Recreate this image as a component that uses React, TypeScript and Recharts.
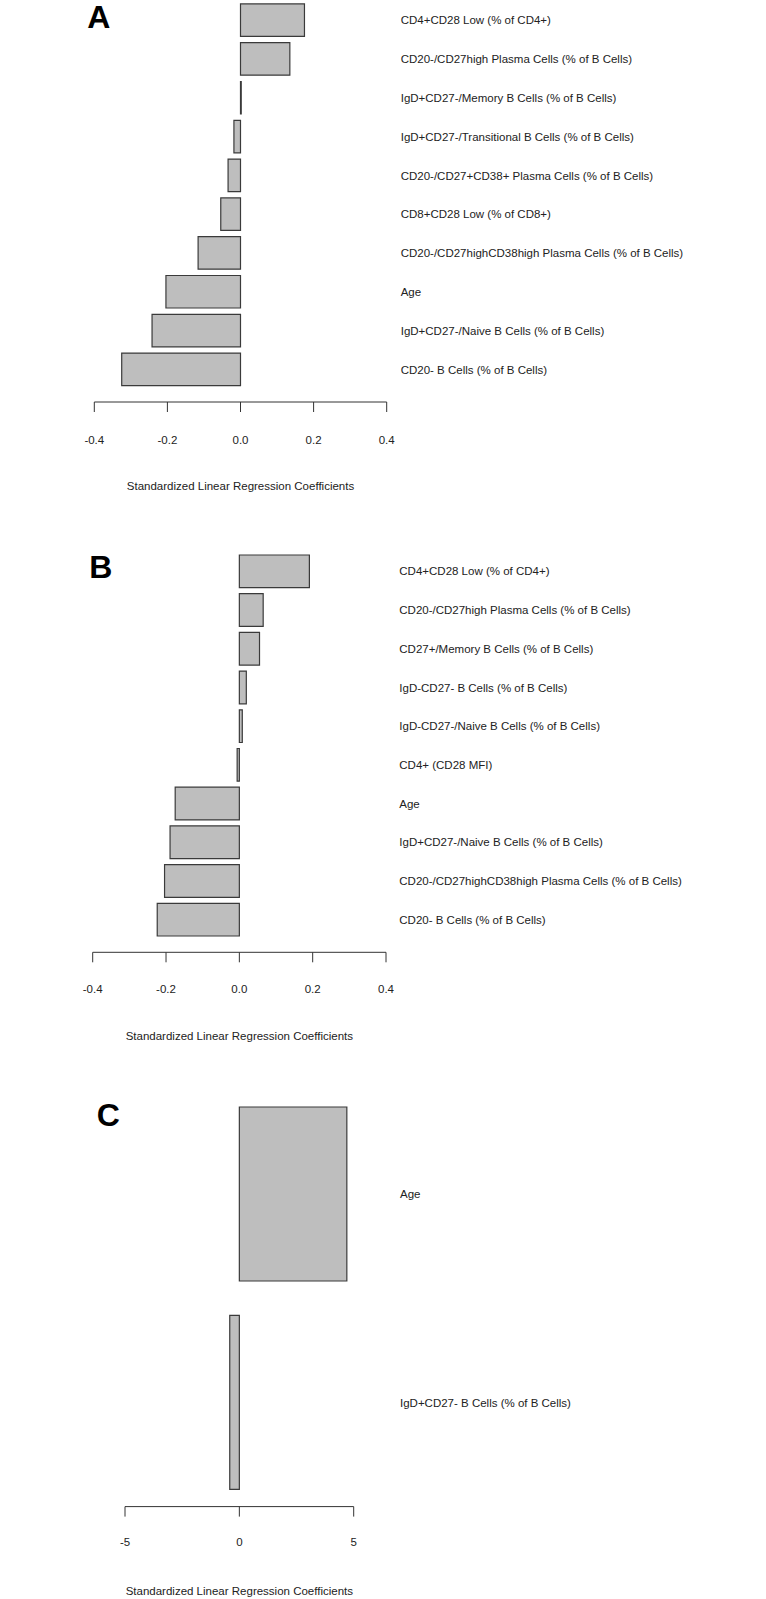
import { BarChart, Bar, XAxis, YAxis } from "recharts";

const FONT = '"Liberation Sans", Arial, Helvetica, sans-serif';
const INK = "#222";
const AXIS_TITLE = "Standardized Linear Regression Coefficients";

// panel A
const categoriesA = [
  "CD4+CD28 Low (% of CD4+)",
  "CD20-/CD27high Plasma Cells (% of B Cells)",
  "IgD+CD27-/Memory B Cells (% of B Cells)",
  "IgD+CD27-/Transitional B Cells (% of B Cells)",
  "CD20-/CD27+CD38+ Plasma Cells (% of B Cells)",
  "CD8+CD28 Low (% of CD8+)",
  "CD20-/CD27highCD38high Plasma Cells (% of B Cells)",
  "Age",
  "IgD+CD27-/Naive B Cells (% of B Cells)",
  "CD20- B Cells (% of B Cells)",
];
const coefA = [0.175, 0.135, 0.002, -0.018, -0.034, -0.054, -0.116, -0.204, -0.242, -0.325];
const ticksA = [-0.4, -0.2, 0, 0.2, 0.4];

// panel B
const categoriesB = [
  "CD4+CD28 Low (% of CD4+)",
  "CD20-/CD27high Plasma Cells (% of B Cells)",
  "CD27+/Memory B Cells (% of B Cells)",
  "IgD-CD27- B Cells (% of B Cells)",
  "IgD-CD27-/Naive B Cells (% of B Cells)",
  "CD4+ (CD28 MFI)",
  "Age",
  "IgD+CD27-/Naive B Cells (% of B Cells)",
  "CD20-/CD27highCD38high Plasma Cells (% of B Cells)",
  "CD20- B Cells (% of B Cells)",
];
const coefB = [0.191, 0.065, 0.055, 0.019, 0.008, -0.006, -0.175, -0.189, -0.204, -0.224];
const ticksB = [-0.4, -0.2, 0, 0.2, 0.4];

// panel C
const categoriesC = ["Age", "IgD+CD27- B Cells (% of B Cells)"];
const coefC = [4.7, -0.42];
const ticksC = [-5, 0, 5];

type PanelProps = {
  letter: string;
  letterLeft: number;
  letterTop: number;
  top: number;
  height: number;
  categories: string[];
  values: number[];
  ticks: number[];
  digits: number;
  left: number;
  plotRight: number;
  bandTop: number;
  padBottom: number;
  plotHeight: number;
  barSize: number;
  labelX: number;
  tickMargin: number;
};

const Panel = (p: PanelProps) => {
  const data = p.categories.map((name, i) => ({ name, coef: p.values[i] }));
  const yAxisWidth = 766 - p.plotRight;
  const axisY = p.bandTop + p.plotHeight;
  const xAxisHeight = p.height - axisY;
  const titleX = (p.left + p.plotRight) / 2;

  return (
    <div style={{ position: "absolute", left: 0, top: p.top, width: 766, height: p.height }}>
      <div
        style={{
          position: "absolute",
          left: p.letterLeft,
          top: p.letterTop,
          fontFamily: FONT,
          fontWeight: 700,
          fontSize: 32,
          lineHeight: "32px",
          color: "#000",
        }}
      >
        {p.letter}
      </div>
      <BarChart
        width={766}
        height={p.height}
        data={data}
        layout="vertical"
        margin={{ top: p.bandTop, right: 0, bottom: 0, left: p.left }}
      >
        <XAxis
          type="number"
          domain={[p.ticks[0], p.ticks[p.ticks.length - 1]]}
          ticks={p.ticks}
          allowDataOverflow
          height={xAxisHeight}
          stroke="#333"
          tickSize={10}
          tickMargin={p.tickMargin}
          tickFormatter={(v: number) => v.toFixed(p.digits)}
          tick={{ fill: INK, fontSize: 11.5, fontFamily: FONT }}
          label={() => (
            <text
              x={titleX}
              y={axisY + 88}
              textAnchor="middle"
              fill={INK}
              fontSize={11.5}
              fontFamily={FONT}
            >
              {AXIS_TITLE}
            </text>
          )}
        />
        <YAxis
          type="category"
          dataKey="name"
          orientation="right"
          width={yAxisWidth}
          interval={0}
          axisLine={false}
          tickLine={false}
          tickSize={0}
          tickMargin={p.labelX - p.plotRight}
          padding={{ top: 0, bottom: p.padBottom }}
          tick={{ fill: INK, fontSize: 11.5, fontFamily: FONT, textAnchor: "start" }}
        />
        <Bar
          dataKey="coef"
          fill="#bebebe"
          stroke="#3a3a3a"
          strokeWidth={1.2}
          barSize={p.barSize}
          isAnimationActive={false}
        />
      </BarChart>
    </div>
  );
};

export default function App() {
  return (
    <div style={{ position: "absolute", left: 0, top: 0, width: 766, height: 1599, background: "#fff" }}>
      <Panel
        letter="A"
        letterLeft={87.3}
        letterTop={1.2}
        top={0}
        height={500}
        categories={categoriesA}
        values={coefA}
        ticks={ticksA}
        digits={1}
        left={94.3}
        plotRight={386.7}
        bandTop={0.9}
        plotHeight={401.1}
        padBottom={13.1}
        barSize={32.5}
        labelX={400.7}
        tickMargin={23.5}
      />
      <Panel
        letter="B"
        letterLeft={89.3}
        letterTop={11.2}
        top={540}
        height={512}
        categories={categoriesB}
        values={coefB}
        ticks={ticksB}
        digits={1}
        left={92.7}
        plotRight={386}
        bandTop={12}
        plotHeight={400.3}
        padBottom={13.3}
        barSize={32.7}
        labelX={399.3}
        tickMargin={23}
      />
      <Panel
        letter="C"
        letterLeft={96.7}
        letterTop={19}
        top={1080}
        height={519}
        categories={categoriesC}
        values={coefC}
        ticks={ticksC}
        digits={0}
        left={125}
        plotRight={353.7}
        bandTop={10}
        plotHeight={416.6}
        padBottom={0}
        barSize={174}
        labelX={400}
        tickMargin={21.5}
      />
    </div>
  );
}
